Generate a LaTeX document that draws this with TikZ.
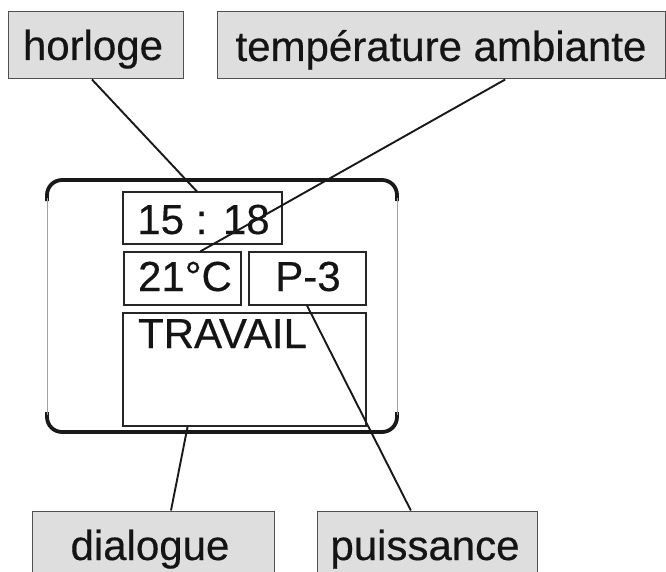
\documentclass[tikz,border=0pt]{standalone}
\usepackage{fontspec}
\setmainfont{Liberation Sans}
\newfontfamily\lblfont{Liberation Sans}[FakeBold=0.4]
\usetikzlibrary{calc}
\definecolor{labelfill}{HTML}{DEDEDE}
\definecolor{labeldraw}{HTML}{505050}
\definecolor{sidegray}{HTML}{A0A0A0}
\begin{document}
\begin{tikzpicture}[x=1pt,y=-1pt,
  lbl/.style={draw=labeldraw, fill=labelfill, line width=1pt, inner sep=0pt, rectangle},
  disp/.style={draw=black!85, line width=1.1pt, inner sep=0pt, rectangle},
  txt/.style={inner sep=0pt, anchor=base, text=black!92, font=\lblfont\fontsize{42}{50}\selectfont},
  conn/.style={line width=1.9pt, draw=black!90},
  bezel/.style={line width=3.8pt, draw=black!90, rounded corners=15pt},
  side/.style={line width=0.8pt, draw=sidegray}]
\useasboundingbox (0,0) rectangle (666,572);
\clip (0,0) rectangle (666,572);
% display frame
\draw[bezel] (47,201) -- (47,180) -- (397,180) -- (397,201);
\draw[bezel] (47,412) -- (47,432) -- (397,432) -- (397,412);
\draw[side] (47,198) -- (47,415);
\draw[side] (397,198) -- (397,415);
% label boxes
\node[lbl, minimum width=175pt, minimum height=67pt] (hor) at (95.5,45.5) {};
\node[lbl, minimum width=448pt, minimum height=67pt] (temp) at (441,45.5) {};
\node[lbl, minimum width=242pt, minimum height=89pt] (dlg) at (153,555.5) {};
\node[lbl, minimum width=220pt, minimum height=89pt] (pui) at (427,555.5) {};
\node[txt] (thor) at (93,60) {horloge};
\node[txt] (ttemp) at (441,61) {température ambiante};
\node[txt] (tdlg) at (150,560) {dialogue};
\node[txt] (tpui) at (425,560) {puissance};
% display fields
\node[disp, minimum width=159pt, minimum height=52pt] (clock) at (202.5,218) {};
\node[disp, minimum width=117pt, minimum height=53pt] (tdisp) at (182.5,278.5) {};
\node[disp, minimum width=117pt, minimum height=53pt] (p3) at (307.5,278.5) {};
\node[disp, minimum width=243pt, minimum height=113pt] (trav) at (244.5,369.5) {};
\node[txt] (tclock) at (203.5,234) {15 : 18};
\node[txt] (ttdisp) at (185,291) {21°C};
\node[txt] (tp3) at (308,291) {P-3};
\node[txt] (ttrav) at (222.5,348) {TRAVAIL};
% connectors
\draw[conn] ($(hor.south west)!0.48!(hor.south east)$) -- ($(clock.north west)!0.465!(clock.north east)$);
\draw[conn] ($(temp.south west)!0.643!(temp.south east)$) -- ($(tdisp.north west)!0.65!(tdisp.north east)$);
\draw[conn] ($(p3.south west)!0.496!(p3.south east)$) -- ($(pui.north west)!0.427!(pui.north east)$);
\draw[conn] ($(trav.south west)!0.267!(trav.south east)$) -- ($(dlg.north west)!0.574!(dlg.north east)$);
\end{tikzpicture}
\end{document}
